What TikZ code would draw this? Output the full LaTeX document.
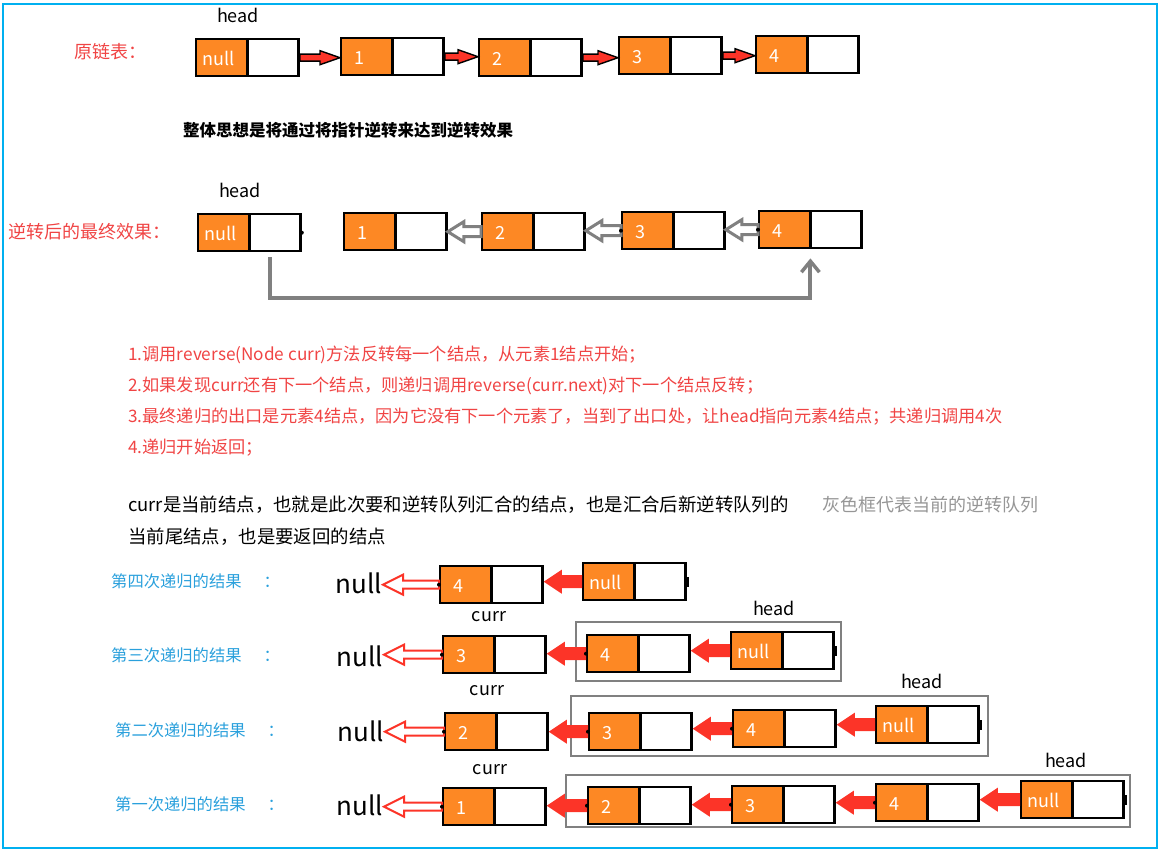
\documentclass[tikz,border=0pt]{standalone}
\usepackage{fontspec}
\setmainfont{Noto Sans CJK SC}
\usetikzlibrary{shapes.multipart,calc,arrows.meta}
\definecolor{org}{RGB}{253,136,36}
\definecolor{rtxt}{RGB}{240,68,68}
\definecolor{btxt}{RGB}{42,160,220}
\definecolor{arr}{RGB}{252,52,40}
\definecolor{gry}{RGB}{128,128,128}
\definecolor{gtxt}{RGB}{150,150,150}
\definecolor{frm}{RGB}{0,176,240}
\newcommand\lnode[4]{\node[ln] (#1) at (#2,#3) {\raisebox{-8pt}[0pt][0pt]{\hspace*{7pt}#4}\nodepart{two}\mbox{}};}
\newcommand\lnull[3]{\node[ln] (#1) at (#2,#3) {\raisebox{-8pt}[0pt][0pt]{\hspace*{0.5pt}null}\nodepart{two}\mbox{}};}
% style, from, to, shaft half, head half, head length (signed)
\newcommand\harrow[6]{\draw[#1] let \p1=(#2),\p2=(#3) in
  ({\x1},{\y1+#4}) -- ({\x2+#6},{\y1+#4}) -- ({\x2+#6},{\y1+#5}) -- ({\x2},{\y1})
  -- ({\x2+#6},{\y1-#5}) -- ({\x2+#6},{\y1-#4}) -- ({\x1},{\y1-#4}) -- cycle;}
\begin{document}
\begin{tikzpicture}[x=1pt,y=-1pt,
  ln/.style={rectangle split, rectangle split horizontal, rectangle split parts=2,
    rectangle split part fill={org,white}, draw=black, line width=2.4pt,
    text width=38pt, align=left, inner xsep=6pt, inner ysep=0pt,
    minimum height=37pt, anchor=north west, text=white,
    font=\fontsize{18}{18}\selectfont},
  lab/.style={font=\fontsize{18}{18}\selectfont, inner sep=1pt},
  rlab/.style={font=\fontsize{18}{18}\selectfont, text=rtxt, anchor=west, inner sep=0pt},
  blab/.style={font=\fontsize{16.3}{16.3}\selectfont, text=btxt, anchor=west, inner sep=0pt},
  nullt/.style={font=\fontsize{26}{26}\selectfont, anchor=east, inner sep=1pt},
  blk/.style={fill=arr, draw=black, line width=1.4pt, line join=miter},
  ghol/.style={draw=gry, line width=3pt, fill=white, line join=miter},
  rhol/.style={draw=arr, line width=2pt, fill=white, line join=miter},
  rfil/.style={fill=arr, draw=none},
  gframe/.style={draw=gry, line width=2.5pt},
  gline/.style={draw=gry, line width=4pt},
  dotmark/.style={fill=black}
]
\useasboundingbox (0,0) rectangle (1162,851);
\draw[frm, line width=1.5pt] (3,4) rectangle (1157,848);

% ---------- row 1: original list
\node[rlab] (t1) at (74,52) {原链表：};
\node[lab] (h1) at (238,15) {head};
\lnull{r1n}{195}{38}
\lnode{r1a}{340}{37}{1}
\lnode{r1b}{478}{38}{2}
\lnode{r1c}{618}{36}{3}
\lnode{r1d}{755}{35}{4}
\harrow{blk}{r1n.east}{r1a.west}{3.5}{7}{-20}
\harrow{blk}{r1a.east}{r1b.west}{3.5}{7}{-20}
\harrow{blk}{r1b.east}{r1c.west}{3.5}{7}{-20}
\harrow{blk}{r1c.east}{r1d.west}{3.5}{7}{-20}

\node[anchor=west, inner sep=0pt, font=\bfseries\fontsize{16.5}{16.5}\selectfont] (idea) at (183,130) {整体思想是将通过将指针逆转来达到逆转效果};

% ---------- row 2: reversed result
\node[rlab] (t2) at (8,232) {逆转后的最终效果：};
\node[lab] (h2) at (240,190) {head};
\lnull{r2n}{197}{213}
\lnode{r2a}{343}{212}{1}
\lnode{r2b}{481}{212}{2}
\lnode{r2c}{621}{211}{3}
\lnode{r2d}{758}{210}{4}
\harrow{ghol}{r2b.west}{r2a.east}{5}{10}{16}
\harrow{ghol}{r2c.west}{r2b.east}{5}{10}{16}
\harrow{ghol}{r2d.west}{r2c.east}{5}{10}{16}
\fill[dotmark] (r2n.east) circle (2);
\fill[dotmark] (r2c.west) circle (2);
\fill[dotmark] (r2d.west) circle (2);
\coordinate (g0) at ($(r2n.south)+(21,5)$);
\coordinate (g1) at ($(r2d.south)+(0,9)$);
\draw[gline, -{Straight Barb[length=11pt,width=18pt,line width=3.5pt]}] (g0) -- ++(0,41) -| (g1);

% ---------- explanation text
\node[anchor=north west, align=left, inner sep=0pt, text=rtxt,
  font=\fontsize{17.2}{31}\selectfont] (steps) at (128,346)
  {1.调用reverse(Node curr)方法反转每一个结点，从元素1结点开始；\\
   2.如果发现curr还有下一个结点，则递归调用reverse(curr.next)对下一个结点反转；\\
   3.最终递归的出口是元素4结点，因为它没有下一个元素了，当到了出口处，让head指向元素4结点；共递归调用4次\\
   4.递归开始返回；};
\node[anchor=north west, align=left, inner sep=0pt,
  font=\fontsize{18.4}{32}\selectfont] (curr) at (128,496)
  {curr是当前结点，也就是此次要和逆转队列汇合的结点，也是汇合后新逆转队列的\\
   当前尾结点，也是要返回的结点};
\node[anchor=north west, inner sep=0pt, text=gtxt,
  font=\fontsize{18}{18}\selectfont] (grey) at (822,496) {灰色框代表当前的逆转队列};

% ---------- row A: 4th recursion
\node[blab] (lA) at (111,581) {第四次递归的结果\hspace{1.35em}：};
\node[nullt] (nA) at (383,583) {null};
\lnode{a4}{439}{565}{4}
\lnull{an}{582}{562}
\harrow{rhol}{a4.west}{nA.east}{4}{10}{20}
\harrow{rfil}{an.west}{a4.east}{6.5}{12}{18}
\fill[dotmark] (a4.west) circle (2);
\fill[dotmark] ($(an.east)+(-2,-5)$) rectangle ++(4,10);

% ---------- row B: 3rd recursion
\node[blab] (lB) at (111,655) {第三次递归的结果\hspace{1.35em}：};
\node[lab] (cB) at (489,617) {curr};
\node[lab] (hB) at (774,608) {head};
\node[nullt] (nB) at (384,656) {null};
\draw[gframe] (576,622) rectangle (841,681);
\lnode{b3}{442}{635}{3}
\lnode{b4}{586}{634}{4}
\lnull{bn}{730}{631}
\harrow{rhol}{b3.west}{nB.east}{4}{10}{20}
\harrow{rfil}{b4.west}{b3.east}{6.5}{12}{18}
\harrow{rfil}{bn.west}{b4.east}{6.5}{12}{18}
\fill[dotmark] (b3.west) circle (2);
\fill[dotmark] (b4.west) circle (2);
\fill[dotmark] ($(bn.east)+(-2,-5)$) rectangle ++(4,10);

% ---------- row C: 2nd recursion
\node[blab] (lC) at (115,730) {第二次递归的结果\hspace{1.35em}：};
\node[lab] (cC) at (487,691) {curr};
\node[lab] (hC) at (922,681) {head};
\node[nullt] (nC) at (385,731) {null};
\draw[gframe] (571,696) rectangle (988,756);
\lnode{c2}{444}{712}{2}
\lnode{c3}{588}{712}{3}
\lnode{c4}{732}{709}{4}
\lnull{cn}{875}{705}
\harrow{rhol}{c2.west}{nC.east}{4}{10}{20}
\harrow{rfil}{c3.west}{c2.east}{6.5}{12}{18}
\harrow{rfil}{c4.west}{c3.east}{6.5}{12}{18}
\harrow{rfil}{cn.west}{c4.east}{6.5}{12}{18}
\fill[dotmark] (c2.west) circle (2);
\fill[dotmark] (c3.west) circle (2);
\fill[dotmark] (c4.west) circle (2);
\fill[dotmark] ($(cn.east)+(-2,-5)$) rectangle ++(4,10);

% ---------- row D: 1st recursion
\node[blab] (lD) at (115,804) {第一次递归的结果\hspace{1.35em}：};
\node[lab] (cD) at (490,770) {curr};
\node[lab] (hD) at (1066,760) {head};
\node[nullt] (nD) at (384,805) {null};
\draw[gframe] (566,775) rectangle (1130,827);
\lnode{d1}{442}{787}{1}
\lnode{d2}{587}{786}{2}
\lnode{d3}{731}{785}{3}
\lnode{d4}{875}{783}{4}
\lnull{dn}{1020}{780}
\harrow{rhol}{d1.west}{nD.east}{4}{10}{20}
\harrow{rfil}{d2.west}{d1.east}{6.5}{12}{18}
\harrow{rfil}{d3.west}{d2.east}{6.5}{12}{18}
\harrow{rfil}{d4.west}{d3.east}{6.5}{12}{18}
\harrow{rfil}{dn.west}{d4.east}{6.5}{12}{18}
\fill[dotmark] (d1.west) circle (2);
\fill[dotmark] (d2.west) circle (2);
\fill[dotmark] (d3.west) circle (2);
\fill[dotmark] (d4.west) circle (2);
\fill[dotmark] ($(dn.east)+(-2,-5)$) rectangle ++(4,10);
\end{tikzpicture}
\end{document}
